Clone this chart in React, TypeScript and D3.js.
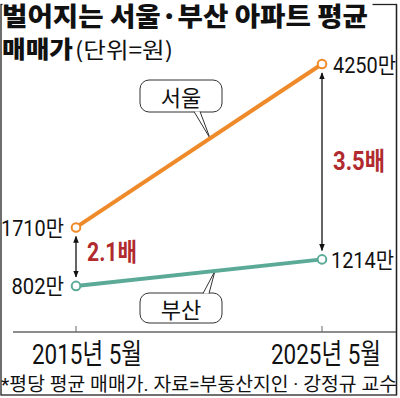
import React from "react";
import * as d3 from "d3";

const periods = ["2015년 5월", "2025년 5월"];
const seoul = [1710, 4250];
const busan = [802, 1214];
const seriesNames = ["서울", "부산"];
const ratios = ["2.1배", "3.5배"];
const valueSuffix = "만";
const titleLine1 = "벌어지는 서울·부산 아파트 평균";
const titleLine2 = "매매가";
const unitNote = "(단위=원)";
const footnote = "*평당 평균 매매가. 자료=부동산지인 · 강정규 교수";

const KR = "'Noto Sans CJK KR', 'Noto Sans', sans-serif";
const NARROW = "Roboto, 'Noto Sans CJK KR', sans-serif";

export default function App() {
  const W = 400, H = 398;
  const x = d3.scalePoint<string>().domain(periods).range([76, 322]);
  const y = d3.scaleLinear().domain([0, 4250]).range([337.5, 64]);
  const line = d3
    .line<number>()
    .x((_, i) => x(periods[i]) as number)
    .y((d) => y(d));

  const orange = "#EF8A2A";
  const teal = "#5BAA97";
  const red = "#B02A2E";

  const at = (vals: number[], t: number) => {
    const x0 = x(periods[0]) as number, x1 = x(periods[1]) as number;
    return [x0 + (x1 - x0) * t, y(vals[0]) + (y(vals[1]) - y(vals[0])) * t];
  };
  const seoulTip = at(seoul, 0.545);
  const busanTip = at(busan, 0.565);

  const xs = periods.map((p) => x(p) as number);
  const labelW = (v: number) => String(v).length * 10.5 + 21;

  return (
    <svg width={W} height={H} style={{ display: "block", position: "absolute", left: 0, top: 0 }}>
      <defs>
        <marker id="ah" viewBox="0 0 10 10" refX="9" refY="5" markerWidth="7" markerHeight="7" orient="auto-start-reverse" markerUnits="userSpaceOnUse">
          <path d="M0,1 L10,5 L0,9 Z" fill="#111" />
        </marker>
      </defs>
      <rect x={0} y={0} width={W} height={H} fill="#fff" />
      {/* frame */}
      <rect x={1} y={4.5} width={395.5} height={390.5} fill="none" stroke="#222" strokeWidth={1.3} />
      <rect x={2.5} y={0} width={370} height={29} fill="#fff" />
      {/* title */}
      <text x={2} y={14} dominantBaseline="central" fontFamily={KR} fontWeight={900} fontSize={26} textLength={366} lengthAdjust="spacingAndGlyphs" fill="#111">
        {titleLine1}
      </text>
      <text x={2} y={47} dominantBaseline="central" fontFamily={KR} fontWeight={900} fontSize={24} textLength={71} lengthAdjust="spacingAndGlyphs" fill="#111">
        {titleLine2}
      </text>
      <text x={75} y={48} dominantBaseline="central" fontFamily={KR} fontWeight={400} fontSize={22} textLength={98} lengthAdjust="spacingAndGlyphs" fill="#111">
        {unitNote}
      </text>

      {/* axis */}
      <line x1={13} x2={397} y1={332} y2={332} stroke="#666" strokeWidth={1.5} />
      {xs.map((xx, i) => (
        <line key={i} x1={xx} x2={xx} y1={326} y2={332} stroke="#666" strokeWidth={1} />
      ))}
      {periods.map((p, i) => (
        <text key={p} x={xs[i] + [11, 4][i] - 55} y={354} dominantBaseline="central" fontFamily={NARROW} fontSize={28} textLength={110} lengthAdjust="spacingAndGlyphs" fill="#111">
          {p}
        </text>
      ))}

      {/* callouts */}
      <rect x={140} y={80} width={82} height={32} rx={9} fill="#fff" stroke="#333" strokeWidth={1} />
      <path d={`M194,111.5 L${seoulTip[0]},${seoulTip[1]} L200,111.5`} fill="#fff" stroke="#333" strokeWidth={1} />
      <text x={181} y={96} textAnchor="middle" dominantBaseline="central" fontFamily={KR} fontSize={22} fill="#111">
        {seriesNames[0]}
      </text>
      <rect x={140} y={293} width={82} height={30} rx={9} fill="#fff" stroke="#333" strokeWidth={1} />
      <path d={`M203,293.5 L${busanTip[0]},${busanTip[1]} L209,293.5`} fill="#fff" stroke="#333" strokeWidth={1} />
      <text x={181} y={308} textAnchor="middle" dominantBaseline="central" fontFamily={KR} fontSize={22} fill="#111">
        {seriesNames[1]}
      </text>

      {/* lines */}
      <path d={line(seoul) as string} fill="none" stroke={orange} strokeWidth={4} />
      <path d={line(busan) as string} fill="none" stroke={teal} strokeWidth={4} />
      {seoul.map((v, i) => (
        <circle key={"s" + i} cx={xs[i]} cy={y(v)} r={4.3} fill="#fff" stroke={orange} strokeWidth={2} />
      ))}
      {busan.map((v, i) => (
        <circle key={"b" + i} cx={xs[i]} cy={y(v)} r={4.3} fill="#fff" stroke={teal} strokeWidth={2} />
      ))}

      {/* ratio arrows */}
      {xs.map((xx, i) => (
        <line key={"a" + i} x1={xx} x2={xx} y1={y(seoul[i]) + 9} y2={y(busan[i]) - 9} stroke="#111" strokeWidth={1.3} markerStart="url(#ah)" markerEnd="url(#ah)" />
      ))}
      <text x={87} y={252} dominantBaseline="central" fontFamily={NARROW} fontWeight={700} fontSize={25} textLength={50} lengthAdjust="spacingAndGlyphs" fill={red}>
        {ratios[0]}
      </text>
      <text x={333} y={161} dominantBaseline="central" fontFamily={NARROW} fontWeight={700} fontSize={25} textLength={52} lengthAdjust="spacingAndGlyphs" fill={red}>
        {ratios[1]}
      </text>

      {/* value labels */}
      {seoul.map((v, i) => {
        const w = labelW(v);
        const lx = i === 0 ? xs[i] - 12 - w : xs[i] + 11;
        return (
          <text key={"sl" + i} x={lx} y={y(v) + 1} dominantBaseline="central" fontFamily={NARROW} fontSize={22} textLength={w} lengthAdjust="spacingAndGlyphs" fill="#111">
            {v + valueSuffix}
          </text>
        );
      })}
      {busan.map((v, i) => {
        const w = labelW(v);
        const lx = i === 0 ? xs[i] - 12 - w : xs[i] + 9;
        return (
          <text key={"bl" + i} x={lx} y={y(v) + 1} dominantBaseline="central" fontFamily={NARROW} fontSize={22} textLength={w} lengthAdjust="spacingAndGlyphs" fill="#111">
            {v + valueSuffix}
          </text>
        );
      })}

      {/* right border on top */}
      <line x1={396.5} x2={396.5} y1={4.5} y2={395} stroke="#222" strokeWidth={1.3} />

      {/* footnote */}
      <text x={1} y={384} dominantBaseline="central" fontFamily={NARROW} fontSize={19} textLength={396} lengthAdjust="spacingAndGlyphs" fill="#111">
        {footnote}
      </text>
    </svg>
  );
}
